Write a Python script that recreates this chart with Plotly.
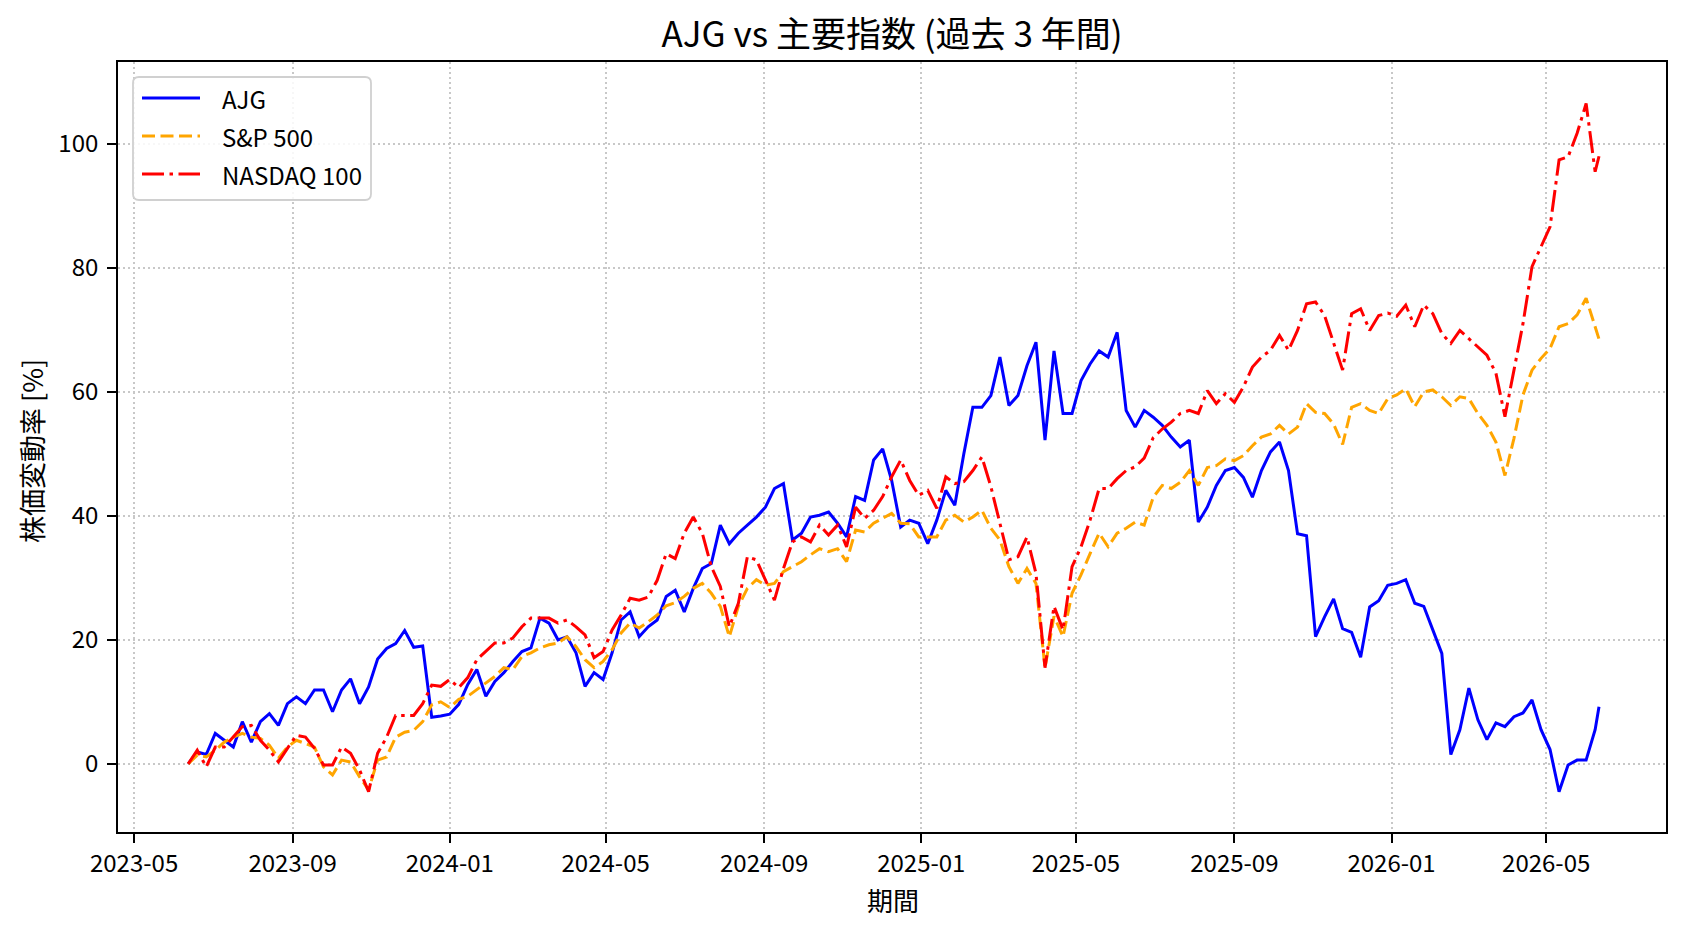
import pandas as pd
import plotly.graph_objects as go

# ---- data (weekly readings, % change since start) ----
start_date = "2023-06-12"
n_weeks = 157
last_date = "2026-06-11"

ajg = [
    0, 1.9, 1.5, 4.9, 3.8, 2.7, 6.8, 3.5, 6.8, 8.1,
    6.2, 9.7, 10.8, 9.7, 11.9, 11.9, 8.4, 11.9, 13.7, 9.7,
    12.4, 16.9, 18.6, 19.4, 21.5, 18.8, 19.0, 7.5, 7.7, 8.0,
    9.6, 12.8, 15.2, 10.9, 13.3, 14.7, 16.5, 18.1, 18.7, 23.5,
    22.7, 20.0, 20.5, 17.9, 12.5, 14.7, 13.6, 17.9, 23.2, 24.5,
    20.5, 22.1, 23.2, 27.0, 28.0, 24.5, 28.3, 31.5, 32.3, 38.5,
    35.5, 37.2, 38.5, 39.8, 41.4, 44.4, 45.2, 36.1, 37.2, 39.8,
    40.1, 40.6, 38.8, 36.6, 43.1, 42.5, 49.0, 50.8, 45.7, 38.2,
    39.3, 38.8, 35.5, 39.3, 44.1, 41.7, 50.0, 57.5, 57.5, 59.4,
    65.6, 57.8, 59.4, 64.2, 68.0, 52.2, 66.6, 56.5, 56.5, 61.8,
    64.5, 66.6, 65.6, 69.6, 57.0, 54.3, 57.0, 55.9, 54.6, 52.7,
    51.1, 52.2, 39.0, 41.4, 44.9, 47.3, 47.8, 46.2, 43.0, 47.3,
    50.3, 51.9, 47.3, 37.1, 36.8, 20.5, 23.7, 26.6, 21.8, 21.2,
    17.2, 25.3, 26.3, 28.8, 29.1, 29.7, 25.9, 25.4, 21.6, 17.8,
    1.5, 5.5, 12.2, 7.1, 3.9, 6.6, 6.0, 7.6, 8.2, 10.3,
    5.5, 2.3, -4.5, -0.2, 0.6, 0.6, 5.5,
    9.2,
]

sp500 = [
    0, 1.4, 1.1, 2.2, 3.5, 4.3, 4.9, 4.3, 4.1, 3.0,
    0.9, 2.7, 3.8, 3.3, 2.7, -0.5, -1.8, 0.6, 0.3, -2.1,
    -4.2, 0.6, 1.1, 4.3, 5.1, 5.4, 6.8, 9.5, 10.0, 9.1,
    10.4, 10.9, 12.0, 13.1, 14.1, 15.5, 15.2, 17.3, 17.9, 18.7,
    19.2, 19.5, 20.5, 18.9, 16.8, 15.5, 16.5, 18.4, 21.1, 22.7,
    21.9, 22.9, 24.0, 25.5, 26.0, 27.0, 28.3, 29.1, 27.5, 25.4,
    20.5, 25.4, 28.3, 29.7, 28.8, 29.1, 31.0, 31.8, 32.6, 33.7,
    34.7, 34.2, 34.7, 32.6, 37.7, 37.4, 38.8, 39.6, 40.4, 38.8,
    38.7, 36.6, 36.6, 36.6, 39.3, 40.1, 39.0, 39.8, 40.9, 38.0,
    36.1, 31.8, 29.1, 31.5, 29.1, 15.5, 23.8, 20.5, 27.5, 30.5,
    33.9, 37.2, 35.0, 37.2, 38.0, 39.0, 38.5, 43.0, 44.9, 44.4,
    45.4, 47.3, 44.9, 47.8, 48.1, 49.2, 48.9, 49.7, 51.3, 52.7,
    53.2, 54.6, 53.2, 54.3, 58.1, 56.7, 56.5, 54.8, 51.5, 57.5,
    58.1, 57.0, 56.5, 58.9, 59.5, 60.5, 57.6, 60.0, 60.3, 59.2,
    57.8, 59.2, 58.9, 56.5, 54.6, 51.9, 46.5, 52.5, 59.5, 63.5,
    65.4, 67.0, 70.5, 71.0, 72.4, 75.1, 70.5,
    68.5,
]

nasdaq100 = [
    0, 2.2, -0.5, 2.7, 2.7, 4.3, 6.0, 6.2, 3.8, 2.2,
    0.3, 2.5, 4.6, 4.3, 2.5, -0.2, -0.2, 2.7, 1.7, -1.0,
    -4.5, 1.7, 4.3, 7.8, 7.8, 7.8, 9.7, 12.7, 12.5, 13.6,
    12.3, 13.9, 16.8, 18.1, 19.5, 19.5, 20.3, 22.1, 23.5, 23.5,
    23.5, 22.7, 23.2, 22.1, 20.8, 17.1, 18.1, 21.6, 24.0, 26.7,
    26.4, 26.9, 29.6, 33.9, 33.1, 37.2, 39.8, 37.2, 31.8, 28.6,
    22.1, 25.9, 33.4, 32.9, 29.7, 26.4, 31.5, 35.8, 36.6, 35.8,
    38.5, 36.9, 38.5, 35.0, 41.4, 39.6, 40.9, 43.1, 46.3, 49.0,
    45.7, 43.3, 44.1, 41.2, 46.3, 45.2, 45.5, 47.3, 49.5, 44.7,
    38.8, 32.9, 33.4, 36.6, 30.7, 15.5, 25.4, 21.6, 31.8, 35.0,
    39.3, 44.4, 44.4, 46.0, 47.3, 47.9, 49.3, 52.6, 54.0, 55.1,
    56.5, 57.0, 56.5, 60.2, 58.1, 59.7, 58.3, 60.8, 64.0, 65.6,
    66.7, 69.1, 66.7, 69.9, 74.2, 74.5, 72.3, 67.7, 63.5, 72.6,
    73.4, 69.9, 72.3, 72.7, 72.2, 74.0, 70.5, 74.0, 72.6, 69.4,
    67.8, 69.9, 68.6, 67.3, 65.9, 63.0, 56.0, 63.5, 71.0, 80.2,
    83.4, 86.6, 97.4, 97.9, 101.7, 106.5, 95.5,
    98.0,
]

series_names = ["AJG", "S&P 500", "NASDAQ 100"]
x_tick_vals = ["2023-05-01", "2023-09-01", "2024-01-01", "2024-05-01", "2024-09-01",
               "2025-01-01", "2025-05-01", "2025-09-01", "2026-01-01", "2026-05-01"]
x_tick_text = ["2023-05", "2023-09", "2024-01", "2024-05", "2024-09",
               "2025-01", "2025-05", "2025-09", "2026-01", "2026-05"]
y_tick_vals = [0, 20, 40, 60, 80, 100]

dates = list(pd.date_range(start_date, periods=n_weeks, freq="7D")) + [pd.Timestamp(last_date)]

# ---- styles ----
FONT = "Noto Sans CJK JP"
W, H = 1688, 932
L, R, T, B = 118, 1666, 62, 832
colors = ["#0000ff", "#ffa500", "#ff0000"]
dashes = ["solid", "13px,5.5px", "22px,5.5px,3.5px,5.5px"]
LW = 3.0

fig = go.Figure()
for vals, name, c, d in zip([ajg, sp500, nasdaq100], series_names, colors, dashes):
    fig.add_trace(go.Scatter(x=dates, y=vals, mode="lines", name=name,
                             line=dict(color=c, width=LW, dash=d),
                             showlegend=False))

def px_x(p):
    return (p - L) / (R - L)

def px_y(p):
    return (B - p) / (B - T)

# legend box (rounded)
bx0, bx1, by0, by1, rr = 133, 371, 77, 200, 6
rx, ry = rr / (R - L), rr / (B - T)
X0, X1, Y0, Y1 = px_x(bx0), px_x(bx1), px_y(by1), px_y(by0)
path = (f"M{X0+rx},{Y1} L{X1-rx},{Y1} Q{X1},{Y1} {X1},{Y1-ry} "
        f"L{X1},{Y0+ry} Q{X1},{Y0} {X1-rx},{Y0} L{X0+rx},{Y0} "
        f"Q{X0},{Y0} {X0},{Y0+ry} L{X0},{Y1-ry} Q{X0},{Y1} {X0+rx},{Y1} Z")
shapes = [dict(type="path", xref="paper", yref="paper", path=path,
               line=dict(color="#d0d0d0", width=1.8),
               fillcolor="rgba(255,255,255,0.85)", layer="above")]
annotations = []
rows = [98, 136, 174]
for name, c, d, ry_ in zip(series_names, colors, dashes, rows):
    shapes.append(dict(type="line", xref="paper", yref="paper",
                       x0=px_x(142), x1=px_x(200), y0=px_y(ry_), y1=px_y(ry_),
                       line=dict(color=c, width=LW, dash=d), layer="above"))
    annotations.append(dict(text=name, xref="paper", yref="paper",
                            x=px_x(220), y=px_y(ry_), xanchor="left", yanchor="middle",
                            showarrow=False, font=dict(family=FONT, size=24, color="black")))

# axis labels
annotations.append(dict(text="株価変動率 [%]", xref="paper", yref="paper",
                        x=px_x(31), y=px_y(451), xanchor="center", yanchor="middle",
                        textangle=-90, showarrow=False,
                        font=dict(family=FONT, size=27, color="black")))
annotations.append(dict(text="期間", xref="paper", yref="paper",
                        x=px_x(893), y=px_y(899), xanchor="center", yanchor="middle",
                        showarrow=False, font=dict(family=FONT, size=26, color="black")))

axis_common = dict(showline=True, linecolor="black", linewidth=1.8, mirror=True,
                   ticks="outside", ticklen=9, tickwidth=1.8, tickcolor="black",
                   showgrid=True, gridcolor="#c8c8c8", gridwidth=1.5, griddash="2px,3px",
                   zeroline=False, tickfont=dict(family=FONT, size=24, color="black"))

fig.update_layout(
    width=W, height=H,
    margin=dict(l=L, r=W - R, t=T, b=H - B, autoexpand=False),
    paper_bgcolor="white", plot_bgcolor="white",
    title=dict(text="AJG vs 主要指数 (過去 3 年間)", x=px_x(892), xref="paper", xanchor="center",
               y=1 - 35 / H, yref="container", yanchor="middle",
               font=dict(family=FONT, size=35, color="black")),
    xaxis=dict(type="date", range=["2023-04-18 12:00", "2026-08-02"],
               tickvals=x_tick_vals, ticktext=x_tick_text, **axis_common),
    yaxis=dict(range=[-11.0, 113.2], tickvals=y_tick_vals, ticklabelstandoff=4, **axis_common),
    shapes=shapes, annotations=annotations, showlegend=False,
)

fig.write_html("out.html")
